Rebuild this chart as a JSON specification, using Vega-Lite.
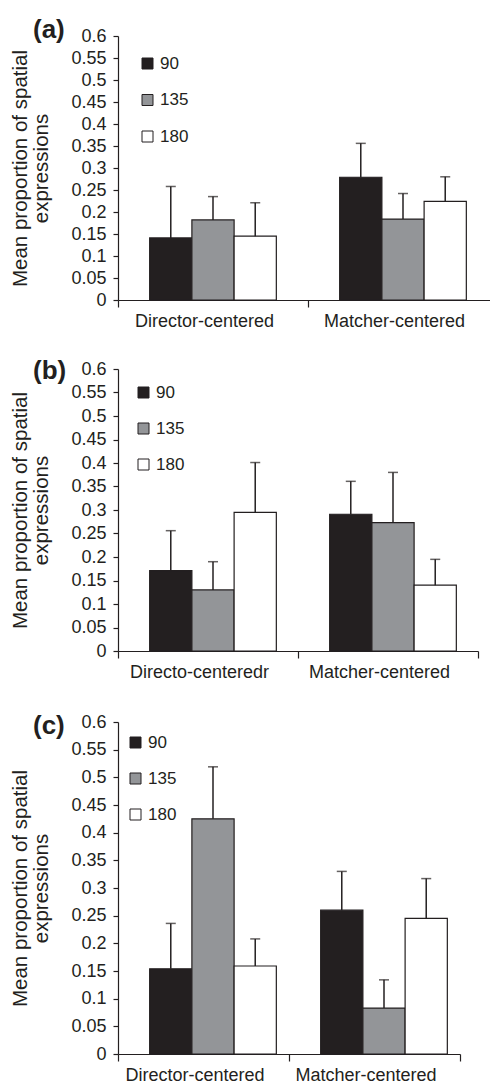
{
  "$schema": "https://vega.github.io/schema/vega-lite/v6.json",
  "padding": {"left": 10, "top": 17, "right": 0, "bottom": 0},
  "background": "white",
  "spacing": 32,
  "resolve": {"scale": {"color": "independent"}, "legend": {"color": "independent"}},
  "config": {
    "view": {"stroke": null},
    "font": "Liberation Sans",
    "axis": {"grid": false, "domainColor": "#231F20", "tickColor": "#231F20", "labelColor": "#231F20", "titleColor": "#231F20", "labelFont": "Liberation Sans", "titleFont": "Liberation Sans", "domainWidth": 1.2, "tickWidth": 1.2},
    "axisY": {"labelOverlap": false, "labelFontSize": 18, "tickSize": 5, "labelPadding": 7, "titleFontSize": 20.5, "titleFontWeight": "normal", "titlePadding": 19, "titleLineHeight": 21},
    "axisX": {"labelFontSize": 18, "tickSize": 7, "labelPadding": 5, "labelOffset": -9, "labelAngle": 0, "tickBand": "extent", "title": null},
    "legend": {"labelFont": "Liberation Sans", "labelColor": "#231F20"},
    "title": {"font": "Liberation Sans", "color": "#231F20"}
  },
  "vconcat": [
    {
      "spacing": 28,
      "resolve": {"scale": {"color": "independent"}, "legend": {"color": "independent"}},
      "vconcat": [
        {
          "width": 380, "height": 264,
          "title": {"text": "(a)", "anchor": "start", "frame": "group", "fontSize": 26, "fontWeight": "bold", "dx": -85, "dy": 20},
          "data": {"values": [
            {"group": "Director-centered", "angle": "90", "mean": 0.141, "upper": 0.258},
            {"group": "Director-centered", "angle": "135", "mean": 0.182, "upper": 0.235},
            {"group": "Director-centered", "angle": "180", "mean": 0.145, "upper": 0.221},
            {"group": "Matcher-centered", "angle": "90", "mean": 0.279, "upper": 0.356},
            {"group": "Matcher-centered", "angle": "135", "mean": 0.184, "upper": 0.242},
            {"group": "Matcher-centered", "angle": "180", "mean": 0.224, "upper": 0.280}
          ]},
          "encoding": {
            "x": {"field": "group", "type": "nominal", "sort": null, "scale": {"paddingInner": 0, "paddingOuter": 0}, "axis": {"title": null}},
            "xOffset": {"field": "angle", "type": "nominal", "scale": {"domain": ["90", "135", "180"], "paddingInner": 0, "paddingOuter": 0.75}}
          },
          "layer": [
            {"mark": {"type": "bar", "stroke": "#231F20", "strokeWidth": 1.2},
             "encoding": {
               "y": {"field": "mean", "type": "quantitative", "scale": {"domain": [0, 0.6], "nice": false}, "axis": {"values": [0, 0.05, 0.1, 0.15, 0.2, 0.25, 0.3, 0.35, 0.4, 0.45, 0.5, 0.55, 0.6], "format": "~g", "labelOverlap": false, "title": ["Mean proportion of spatial", "expressions"]}},
               "color": {"field": "angle", "type": "nominal", "scale": {"domain": ["90", "135", "180"], "range": ["#231F20", "#939598", "#FFFFFF"]},
                 "legend": {"orient": "none", "legendX": 21, "legendY": 19, "title": null, "symbolType": "square", "symbolSize": 121, "symbolStrokeColor": "#231F20", "symbolStrokeWidth": 1, "labelFontSize": 17, "labelOffset": 4, "rowPadding": 18.5, "padding": 0}}
             }},
            {"mark": {"type": "rule", "color": "#231F20", "strokeWidth": 1.5},
             "encoding": {"y": {"field": "mean", "type": "quantitative", "axis": {"values": [0, 0.05, 0.1, 0.15, 0.2, 0.25, 0.3, 0.35, 0.4, 0.45, 0.5, 0.55, 0.6], "format": "~g", "labelOverlap": false, "title": ["Mean proportion of spatial", "expressions"]}}, "y2": {"field": "upper"}}},
            {"mark": {"type": "tick", "color": "#231F20", "thickness": 1.5, "size": 10, "orient": "horizontal"},
             "encoding": {"y": {"field": "upper", "type": "quantitative", "axis": {"values": [0, 0.05, 0.1, 0.15, 0.2, 0.25, 0.3, 0.35, 0.4, 0.45, 0.5, 0.55, 0.6], "format": "~g", "labelOverlap": false, "title": ["Mean proportion of spatial", "expressions"]}}}}
          ]
        },
        {
          "width": 360, "height": 282,
          "title": {"text": "(b)", "anchor": "start", "frame": "group", "fontSize": 26, "fontWeight": "bold", "dx": -85, "dy": 28},
          "data": {"values": [
            {"group": "Directo-centeredr", "angle": "90", "mean": 0.171, "upper": 0.256},
            {"group": "Directo-centeredr", "angle": "135", "mean": 0.130, "upper": 0.190},
            {"group": "Directo-centeredr", "angle": "180", "mean": 0.295, "upper": 0.401},
            {"group": "Matcher-centered", "angle": "90", "mean": 0.291, "upper": 0.361},
            {"group": "Matcher-centered", "angle": "135", "mean": 0.273, "upper": 0.380},
            {"group": "Matcher-centered", "angle": "180", "mean": 0.140, "upper": 0.195}
          ]},
          "encoding": {
            "x": {"field": "group", "type": "nominal", "sort": null, "scale": {"paddingInner": 0, "paddingOuter": 0}, "axis": {"title": null}},
            "xOffset": {"field": "angle", "type": "nominal", "scale": {"domain": ["90", "135", "180"], "paddingInner": 0, "paddingOuter": 0.75}}
          },
          "layer": [
            {"mark": {"type": "bar", "stroke": "#231F20", "strokeWidth": 1.2},
             "encoding": {
               "y": {"field": "mean", "type": "quantitative", "scale": {"domain": [0, 0.6], "nice": false}, "axis": {"values": [0, 0.05, 0.1, 0.15, 0.2, 0.25, 0.3, 0.35, 0.4, 0.45, 0.5, 0.55, 0.6], "format": "~g", "labelOverlap": false, "title": ["Mean proportion of spatial", "expressions"]}},
               "color": {"field": "angle", "type": "nominal", "scale": {"domain": ["90", "135", "180"], "range": ["#231F20", "#939598", "#FFFFFF"]},
                 "legend": {"orient": "none", "legendX": 17, "legendY": 15, "title": null, "symbolType": "square", "symbolSize": 121, "symbolStrokeColor": "#231F20", "symbolStrokeWidth": 1, "labelFontSize": 17, "labelOffset": 4, "rowPadding": 18, "padding": 0}}
             }},
            {"mark": {"type": "rule", "color": "#231F20", "strokeWidth": 1.5},
             "encoding": {"y": {"field": "mean", "type": "quantitative", "axis": {"values": [0, 0.05, 0.1, 0.15, 0.2, 0.25, 0.3, 0.35, 0.4, 0.45, 0.5, 0.55, 0.6], "format": "~g", "labelOverlap": false, "title": ["Mean proportion of spatial", "expressions"]}}, "y2": {"field": "upper"}}},
            {"mark": {"type": "tick", "color": "#231F20", "thickness": 1.5, "size": 10, "orient": "horizontal"},
             "encoding": {"y": {"field": "upper", "type": "quantitative", "axis": {"values": [0, 0.05, 0.1, 0.15, 0.2, 0.25, 0.3, 0.35, 0.4, 0.45, 0.5, 0.55, 0.6], "format": "~g", "labelOverlap": false, "title": ["Mean proportion of spatial", "expressions"]}}}}
          ]
        }
      ]
    },
    {
      "width": 342, "height": 332,
      "title": {"text": "(c)", "anchor": "start", "frame": "group", "fontSize": 26, "fontWeight": "bold", "dx": -85, "dy": 30},
      "data": {"values": [
        {"group": "Director-centered", "angle": "90", "mean": 0.154, "upper": 0.236},
        {"group": "Director-centered", "angle": "135", "mean": 0.425, "upper": 0.519},
        {"group": "Director-centered", "angle": "180", "mean": 0.159, "upper": 0.208},
        {"group": "Matcher-centered", "angle": "90", "mean": 0.260, "upper": 0.330},
        {"group": "Matcher-centered", "angle": "135", "mean": 0.083, "upper": 0.134},
        {"group": "Matcher-centered", "angle": "180", "mean": 0.245, "upper": 0.317}
      ]},
      "encoding": {
        "x": {"field": "group", "type": "nominal", "sort": null, "scale": {"paddingInner": 0, "paddingOuter": 0}, "axis": {"title": null}},
        "xOffset": {"field": "angle", "type": "nominal", "scale": {"domain": ["90", "135", "180"], "paddingInner": 0, "paddingOuter": 0.75}}
      },
      "layer": [
        {"mark": {"type": "bar", "stroke": "#231F20", "strokeWidth": 1.2},
         "encoding": {
           "y": {"field": "mean", "type": "quantitative", "scale": {"domain": [0, 0.6], "nice": false}, "axis": {"values": [0, 0.05, 0.1, 0.15, 0.2, 0.25, 0.3, 0.35, 0.4, 0.45, 0.5, 0.55, 0.6], "format": "~g", "labelOverlap": false, "title": ["Mean proportion of spatial", "expressions"]}},
           "color": {"field": "angle", "type": "nominal", "scale": {"domain": ["90", "135", "180"], "range": ["#231F20", "#939598", "#FFFFFF"]},
             "legend": {"orient": "none", "legendX": 9, "legendY": 12, "title": null, "symbolType": "square", "symbolSize": 121, "symbolStrokeColor": "#231F20", "symbolStrokeWidth": 1, "labelFontSize": 17, "labelOffset": 4, "rowPadding": 18, "padding": 0}}
         }},
        {"mark": {"type": "rule", "color": "#231F20", "strokeWidth": 1.5},
         "encoding": {"y": {"field": "mean", "type": "quantitative", "axis": {"values": [0, 0.05, 0.1, 0.15, 0.2, 0.25, 0.3, 0.35, 0.4, 0.45, 0.5, 0.55, 0.6], "format": "~g", "labelOverlap": false, "title": ["Mean proportion of spatial", "expressions"]}}, "y2": {"field": "upper"}}},
        {"mark": {"type": "tick", "color": "#231F20", "thickness": 1.5, "size": 10, "orient": "horizontal"},
         "encoding": {"y": {"field": "upper", "type": "quantitative", "axis": {"values": [0, 0.05, 0.1, 0.15, 0.2, 0.25, 0.3, 0.35, 0.4, 0.45, 0.5, 0.55, 0.6], "format": "~g", "labelOverlap": false, "title": ["Mean proportion of spatial", "expressions"]}}}}
      ]
    }
  ]
}
